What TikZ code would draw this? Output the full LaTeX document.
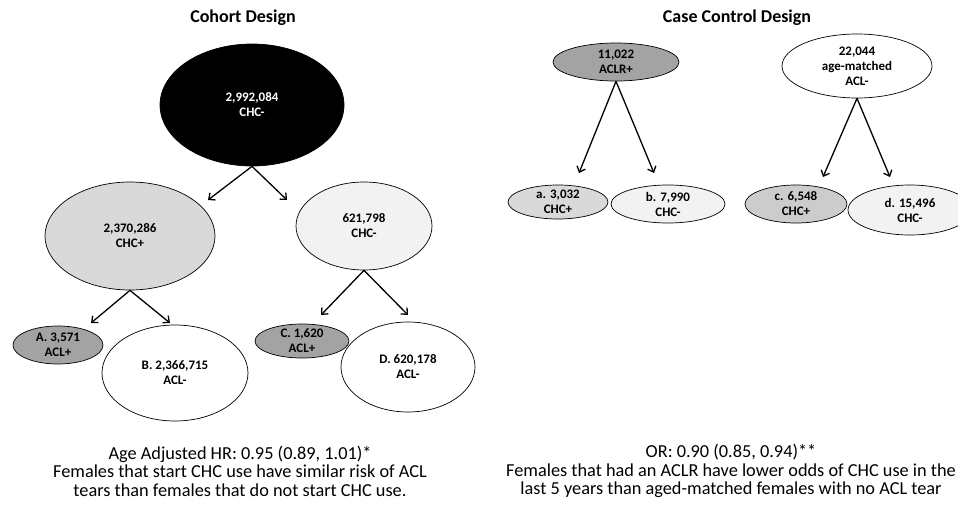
\documentclass[tikz,border=0pt]{standalone}
\usepackage{fontspec}
\setmainfont{Carlito}
\usetikzlibrary{shapes.geometric,arrows.meta}

\definecolor{darkfill}{gray}{0.64}
\definecolor{midfill}{gray}{0.80}
\definecolor{lightfill}{gray}{0.85}
\definecolor{palefill}{gray}{0.95}

\tikzset{
  oval/.style={ellipse,draw,line width=.7pt,inner sep=-5pt,align=center,
    font=\fontsize{13}{15}\selectfont\bfseries},
  sz/.style 2 args={minimum width=#1pt,minimum height=#2pt},
  arr/.style={line width=1.3pt,-{Straight Barb[length=5pt,width=9pt]}},
  ttl/.style={font=\fontsize{18}{20}\selectfont\bfseries},
  res/.style={align=center,font=\fontsize{18.3}{18.5}\selectfont}
}

\begin{document}
\begin{tikzpicture}[x=1pt,y=-1pt,join=round] % cohort and case control trees
        \useasboundingbox (0,0) rectangle (958,506);
        \clip (0,0) rectangle (958,506);
        \node[ttl] (cohort) at (243,18) {Cohort Design};
        \node[ttl] (casectrl) at (737,18) {Case Control Design};
        % cohort tree
        \node[oval,sz={184}{122},fill=black,text=white] (all) at (252,105) {2,992,084\\CHC-};
        \node[oval,sz={170}{108},fill=lightfill] (chcpos) at (130,236) {2,370,286\\CHC+};
        \node[oval,sz={136}{88},fill=palefill] (chcneg) at (364,226) {621,798\\CHC-};
        \node[oval,sz={90}{38},fill=darkfill] (cellA) at (58,345) {A. 3,571\\ACL+};
        \node[oval,sz={146}{96},fill=white] (cellB) at (175,373) {B. 2,366,715\\ACL-};
        \node[oval,sz={94}{34},fill=darkfill] (cellC) at (302,341) {C. 1,620\\ACL+};
        \node[oval,sz={134}{90},fill=white] (cellD) at (408,367) {D. 620,178\\ACL-};
        \coordinate (allL) at (208,200);
        \coordinate (allR) at (287,200);
        \coordinate (posL) at (91,323);
        \coordinate (posR) at (170,323);
        \coordinate (negL) at (321,315);
        \coordinate (negR) at (408,315);
        \draw[arr] (all.south) -- (allL);
        \draw[arr] (all.south) -- (allR);
        \draw[arr] (chcpos.south) -- (posL);
        \draw[arr] (chcpos.south) -- (posR);
        \draw[arr] (chcneg.south) -- (negL);
        \draw[arr] (chcneg.south) -- (negR);
        % case control tree
        \node[oval,sz={126}{38},fill=darkfill] (aclr) at (616,62) {11,022\\ACLR+};
        \node[oval,sz={150}{64},fill=white] (ctrl) at (857,66) {22,044\\age-matched\\ACL-};
        \node[oval,sz={100}{34},fill=lightfill] (cella) at (558,202) {a. 3,032\\CHC+};
        \node[oval,sz={114}{38},fill=palefill] (cellb) at (668,204) {b. 7,990\\CHC-};
        \node[oval,sz={102}{38},fill=midfill] (cellc) at (796,204) {c. 6,548\\CHC+};
        \node[oval,sz={124}{50},fill=palefill] (celld) at (910,210) {d. 15,496\\CHC-};
        \coordinate (aclrL) at (579,173);
        \coordinate (aclrR) at (654,173);
        \coordinate (ctrlL) at (823,177);
        \coordinate (ctrlR) at (890,177);
        \draw[arr] (aclr.south) -- (aclrL);
        \draw[arr] (aclr.south) -- (aclrR);
        \draw[arr] (ctrl.south) -- (ctrlL);
        \draw[arr] (ctrl.south) -- (ctrlR);
        % results
        \node[res] (hr) at (240,471) {Age Adjusted HR: 0.95 (0.89, 1.01)*\\
                Females that start CHC use have similar risk of ACL\\
                tears than females that do not start CHC use.};
        \node[res] (or) at (731,471) {OR: 0.90 (0.85, 0.94)**\\
                Females that had an ACLR have lower odds of CHC use in the\\
                last 5 years than aged-matched females with no ACL tear};
\end{tikzpicture}
\end{document}
